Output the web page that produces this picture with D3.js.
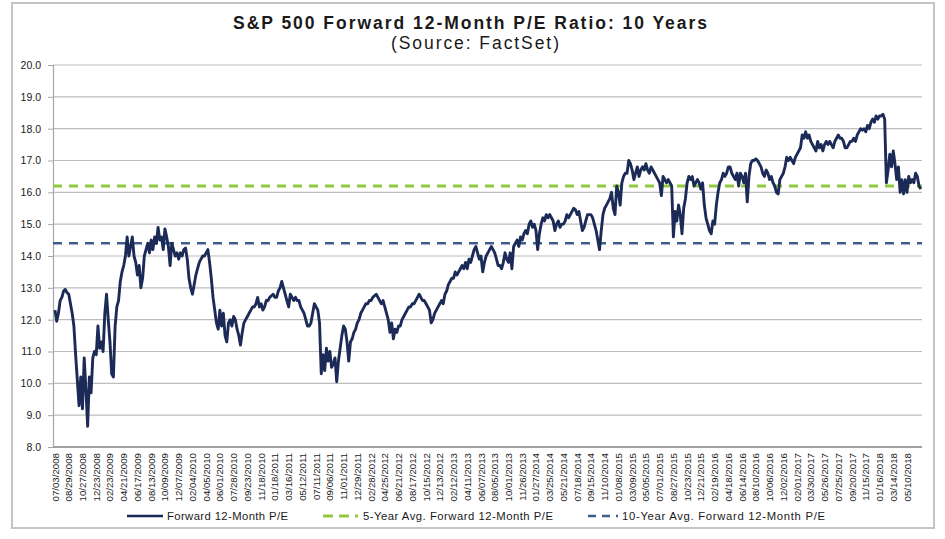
<!DOCTYPE html>
<meta charset="utf-8">

<style>
body { margin: 0; background: #fff; }
svg text { font-family: "Liberation Sans", Arial, sans-serif; fill: #1a1a1a; }
</style>

<svg width="945" height="539"></svg>

<script src="https://d3js.org/d3.v7.min.js"></script>

<script>
// weekly readings (every 5 trading days) of the forward P/E, 07/03/2008 onwards
var peValues = [
  12.3, 11.95, 12.2, 12.6, 12.7, 12.9, 12.95, 12.85, 12.8, 12.5,
  12.2, 11.8, 10.9, 10.1, 9.3, 10.2, 9.2, 10.8, 9.8, 8.65,
  10.2, 9.7, 10.8, 11.0, 10.9, 11.8, 11.1, 11.3, 11.0, 12.2,
  12.8, 12.0, 11.3, 10.3, 10.2, 11.8, 12.4, 12.6, 13.2, 13.5,
  13.7, 14.0, 14.6, 14.0, 14.3, 14.6, 14.0, 13.8, 13.4, 13.7,
  13.0, 13.3, 14.0, 14.2, 14.4, 14.1, 14.5, 14.2, 14.6, 14.4,
  14.9, 14.5, 14.6, 14.2, 14.85, 14.6, 14.3, 13.7, 14.4, 14.2,
  14.0, 14.1, 13.9, 14.1, 14.0, 14.2, 14.25, 13.9, 13.3, 13.0,
  12.8, 13.1, 13.4, 13.6, 13.8, 13.9, 14.0, 14.0, 14.1, 14.2,
  13.8, 13.3, 12.7, 12.3, 11.9, 11.7, 12.3, 11.8, 12.2, 11.5,
  11.3, 11.9, 12.0, 11.8, 12.1, 12.0, 11.7, 11.5, 11.2, 11.6,
  11.9, 12.0, 12.1, 12.2, 12.3, 12.4, 12.4, 12.5, 12.7, 12.4,
  12.5, 12.3, 12.4, 12.6, 12.6, 12.7, 12.75, 12.8, 12.7, 12.7,
  12.9, 13.0, 13.2, 13.0, 12.8, 12.6, 12.4, 12.8, 12.7, 12.6,
  12.7, 12.6, 12.6, 12.4, 12.3, 12.2, 12.0, 11.8, 11.8, 11.9,
  12.2, 12.5, 12.4, 12.3, 11.9, 10.3, 10.9, 10.4, 11.1, 10.7,
  11.0, 10.5, 10.6, 10.8, 10.05, 10.7, 11.1, 11.5, 11.8, 11.7,
  11.3, 10.7, 11.3, 11.4, 11.6, 11.7, 11.9, 12.0, 12.2, 12.3,
  12.4, 12.5, 12.5, 12.6, 12.6, 12.7, 12.75, 12.8, 12.7, 12.6,
  12.5, 12.6, 12.4, 12.2, 12.0, 11.6, 11.9, 11.4, 11.7, 11.6,
  11.8, 11.8, 12.0, 12.1, 12.2, 12.3, 12.4, 12.4, 12.5, 12.5,
  12.6, 12.7, 12.8, 12.7, 12.6, 12.6, 12.5, 12.4, 12.3, 11.9,
  12.0, 12.2, 12.3, 12.4, 12.5, 12.6, 12.5, 12.8, 12.9, 13.1,
  13.2, 13.3, 13.3, 13.5, 13.4, 13.5, 13.6, 13.7, 13.6, 13.8,
  13.6, 13.9, 13.8, 14.0, 14.2, 14.3, 14.1, 13.9, 14.0, 13.5,
  13.8, 14.0, 14.1, 14.2, 14.3, 14.2, 14.1, 13.9, 13.7, 13.7,
  13.6, 13.8, 14.1, 13.9, 13.8, 14.1, 13.6, 14.3, 14.4, 14.5,
  14.3, 14.6, 14.5, 14.7, 14.8, 14.7, 15.0, 15.1, 14.9, 15.0,
  14.8, 14.2, 14.7, 15.0, 15.2, 15.1, 15.3, 15.2, 15.3, 15.2,
  15.1, 14.8, 15.0, 15.1, 14.9, 15.0, 15.0, 15.1, 15.3, 15.2,
  15.3, 15.4, 15.5, 15.45, 15.3, 15.4, 15.1, 14.8, 14.9, 15.1,
  15.3, 15.3, 15.3, 15.2, 15.0, 14.8, 14.5, 14.2, 14.8, 15.3,
  15.5, 15.6, 15.7, 15.8, 16.0, 15.5, 15.3, 16.2, 16.0, 15.6,
  16.3, 16.5, 16.6, 16.6, 17.0, 16.9, 16.7, 16.4, 16.6, 16.8,
  16.5, 16.7, 16.8, 16.7, 16.9, 16.7, 16.6, 16.8, 16.7, 16.6,
  16.5, 16.4, 16.3, 15.9, 16.5, 16.4, 16.3, 16.4, 16.3, 16.2,
  14.6, 15.4, 15.1, 15.6, 15.3, 14.7, 15.5, 15.8, 16.3, 16.5,
  16.4, 16.5, 16.2, 16.3, 16.4, 16.3, 16.1, 16.3, 15.6, 15.2,
  15.0, 14.8, 14.7, 15.1, 15.0, 15.6, 16.0, 16.3, 16.4, 16.6,
  16.5, 16.6, 16.8, 16.8, 16.6, 16.5, 16.4, 16.6, 16.2, 16.6,
  16.5, 16.3, 16.6, 15.7, 16.5, 16.9, 17.0, 17.0, 17.05, 17.0,
  16.9, 16.8, 16.6, 16.5, 16.7, 16.6, 16.4, 16.5, 16.3, 16.2,
  16.0, 15.95, 16.4, 16.5, 16.6, 16.8, 17.1, 17.0, 17.1, 17.0,
  16.9, 17.1, 17.2, 17.3, 17.4, 17.8, 17.7, 17.9, 17.7, 17.8,
  17.6, 17.5, 17.4, 17.3, 17.6, 17.4, 17.5, 17.3, 17.5, 17.6,
  17.5, 17.6, 17.5, 17.4, 17.6, 17.7, 17.8, 17.7, 17.7, 17.6,
  17.4, 17.4, 17.5, 17.6, 17.6, 17.7, 17.6, 17.8, 17.9, 18.0,
  17.95, 18.0, 17.9, 18.1, 18.0, 18.2, 18.3, 18.2, 18.4, 18.3,
  18.4, 18.4, 18.45, 18.3, 16.3, 16.7, 17.2, 16.8, 17.3, 16.9,
  16.4, 16.8, 16.0, 16.4, 15.95, 16.4, 16.0, 16.5, 16.3, 16.4,
  16.3, 16.6, 16.5, 16.2, 16.1
];
var sampleStep = 5;   // trading days between readings

// category labels, one every 40 trading days
var dateLabels = [
  "07/03/2008", "08/29/2008", "10/27/2008", "12/23/2008", "02/23/2009", "04/21/2009",
  "06/17/2009", "08/13/2009", "10/09/2009", "12/07/2009", "02/04/2010", "04/05/2010",
  "06/01/2010", "07/28/2010", "09/23/2010", "11/18/2010", "01/18/2011", "03/16/2011",
  "05/12/2011", "07/11/2011", "09/06/2011", "11/01/2011", "12/29/2011", "02/28/2012",
  "04/25/2012", "06/21/2012", "08/17/2012", "10/15/2012", "12/13/2012", "02/12/2013",
  "04/11/2013", "06/07/2013", "08/05/2013", "10/01/2013", "11/26/2013", "01/27/2014",
  "03/25/2014", "05/21/2014", "07/18/2014", "09/15/2014", "11/10/2014", "01/08/2015",
  "03/09/2015", "05/05/2015", "07/01/2015", "08/27/2015", "10/23/2015", "12/21/2015",
  "02/19/2016", "04/18/2016", "06/14/2016", "08/10/2016", "10/06/2016", "12/02/2016",
  "02/01/2017", "03/30/2017", "05/26/2017", "07/25/2017", "09/20/2017", "11/15/2017",
  "01/16/2018", "03/14/2018", "05/10/2018"
];
var labelStep = 40;

var avg5Year = 16.2;
var avg10Year = 14.4;
var yTicks = [8, 9, 10, 11, 12, 13, 14, 15, 16, 17, 18, 19, 20];

var seriesNames = ["Forward 12-Month P/E", "5-Year Avg. Forward 12-Month P/E", "10-Year Avg. Forward 12-Month P/E"];
var lineColor = "#1c2a57";
var greenColor = "#92c83e";
var blueDash = "#3e5f8c";

var svg = d3.select("svg");

// outer frame
svg.append("rect")
  .attr("x", 12).attr("y", 3)
  .attr("width", 922).attr("height", 525)
  .attr("fill", "none")
  .attr("stroke", "#c4c4c4")
  .attr("stroke-width", 2);

// titles - the original is set wider than Arial, so stretch the spacing
svg.append("text")
  .attr("x", 470).attr("y", 29)
  .attr("text-anchor", "middle")
  .attr("font-size", 17.5)
  .attr("font-weight", "bold")
  .attr("textLength", 474)
  .attr("lengthAdjust", "spacing")
  .text("S&P 500 Forward 12-Month P/E Ratio: 10 Years");

svg.append("text")
  .attr("x", 475).attr("y", 49)
  .attr("text-anchor", "middle")
  .attr("font-size", 17.5)
  .attr("textLength", 168)
  .attr("lengthAdjust", "spacing")
  .text("(Source: FactSet)");

var x = d3.scaleLinear().domain([0, labelStep * 62]).range([55, 907]);
var y = d3.scaleLinear().domain([8, 20]).range([447, 65]);
var plotLeft = 53, plotRight = 922;

// gridlines
svg.append("g")
  .selectAll("line")
  .data(yTicks.slice(1))
  .enter().append("line")
    .attr("x1", plotLeft).attr("x2", plotRight)
    .attr("y1", function (d) { return y(d) })
    .attr("y2", function (d) { return y(d) })
    .attr("stroke", "#bdbdbd")
    .attr("stroke-width", 1.2);

// y axis
var yAxis = d3.axisLeft(y)
  .tickValues(yTicks)
  .tickFormat(d3.format(".1f"))
  .tickSize(5)
  .tickPadding(7);
var yg = svg.append("g")
  .attr("transform", "translate(" + plotLeft + ",0)")
  .call(yAxis);
yg.select(".domain").attr("stroke", "#a6a6a6").attr("stroke-width", 1.2);
yg.selectAll(".tick line").attr("stroke", "#a6a6a6");
yg.selectAll(".tick text")
  .attr("font-size", 10.5)
  .attr("font-family", "Liberation Sans, Arial, sans-serif")
  .attr("fill", "#1a1a1a");

// x axis base line
svg.append("line")
  .attr("x1", plotLeft).attr("x2", plotRight)
  .attr("y1", y(8)).attr("y2", y(8))
  .attr("stroke", "#a0a0a0")
  .attr("stroke-width", 2.2);

// x labels (rotated)
svg.append("g")
  .selectAll("text")
  .data(dateLabels)
  .enter().append("text")
    .attr("transform", function (d, i) {
      return "translate(" + (x(i * labelStep) + 3.5) + "," + 453 + ") rotate(-90)";
    })
    .attr("text-anchor", "end")
    .attr("font-size", 9.7)
    .text(function (d) { return d });

// average lines
svg.append("line")
  .attr("x1", plotLeft).attr("x2", plotRight)
  .attr("y1", y(avg5Year)).attr("y2", y(avg5Year))
  .attr("stroke", greenColor)
  .attr("stroke-width", 3)
  .attr("stroke-dasharray", "9,7");

svg.append("line")
  .attr("x1", plotLeft).attr("x2", plotRight)
  .attr("y1", y(avg10Year)).attr("y2", y(avg10Year))
  .attr("stroke", blueDash)
  .attr("stroke-width", 2.6)
  .attr("stroke-dasharray", "9,7");

// main series
var line = d3.line()
  .x(function (d, i) { return x(i * sampleStep) })
  .y(function (d) { return y(d) });

svg.append("path")
  .datum(peValues)
  .attr("d", line)
  .attr("fill", "none")
  .attr("stroke", lineColor)
  .attr("stroke-width", 2.9)
  .attr("stroke-linejoin", "round");

// legend
var legendY = 516;
var legend = svg.append("g");
legend.append("line")
  .attr("x1", 127).attr("x2", 163).attr("y1", legendY).attr("y2", legendY)
  .attr("stroke", lineColor).attr("stroke-width", 2.6);
legend.append("line")
  .attr("x1", 323).attr("x2", 358).attr("y1", legendY).attr("y2", legendY)
  .attr("stroke", greenColor).attr("stroke-width", 3).attr("stroke-dasharray", "10,6");
legend.append("line")
  .attr("x1", 588).attr("x2", 618).attr("y1", legendY).attr("y2", legendY)
  .attr("stroke", blueDash).attr("stroke-width", 2.6).attr("stroke-dasharray", "8,6");

var legendTextX = [167, 363, 622];
var legendTextW = [121, 190, 203];
legend.selectAll("text")
  .data(seriesNames)
  .enter().append("text")
    .attr("x", function (d, i) { return legendTextX[i] })
    .attr("y", legendY + 4)
    .attr("font-size", 11.3)
    .attr("textLength", function (d, i) { return legendTextW[i] })
    .attr("lengthAdjust", "spacing")
    .text(function (d) { return d });
</script>
